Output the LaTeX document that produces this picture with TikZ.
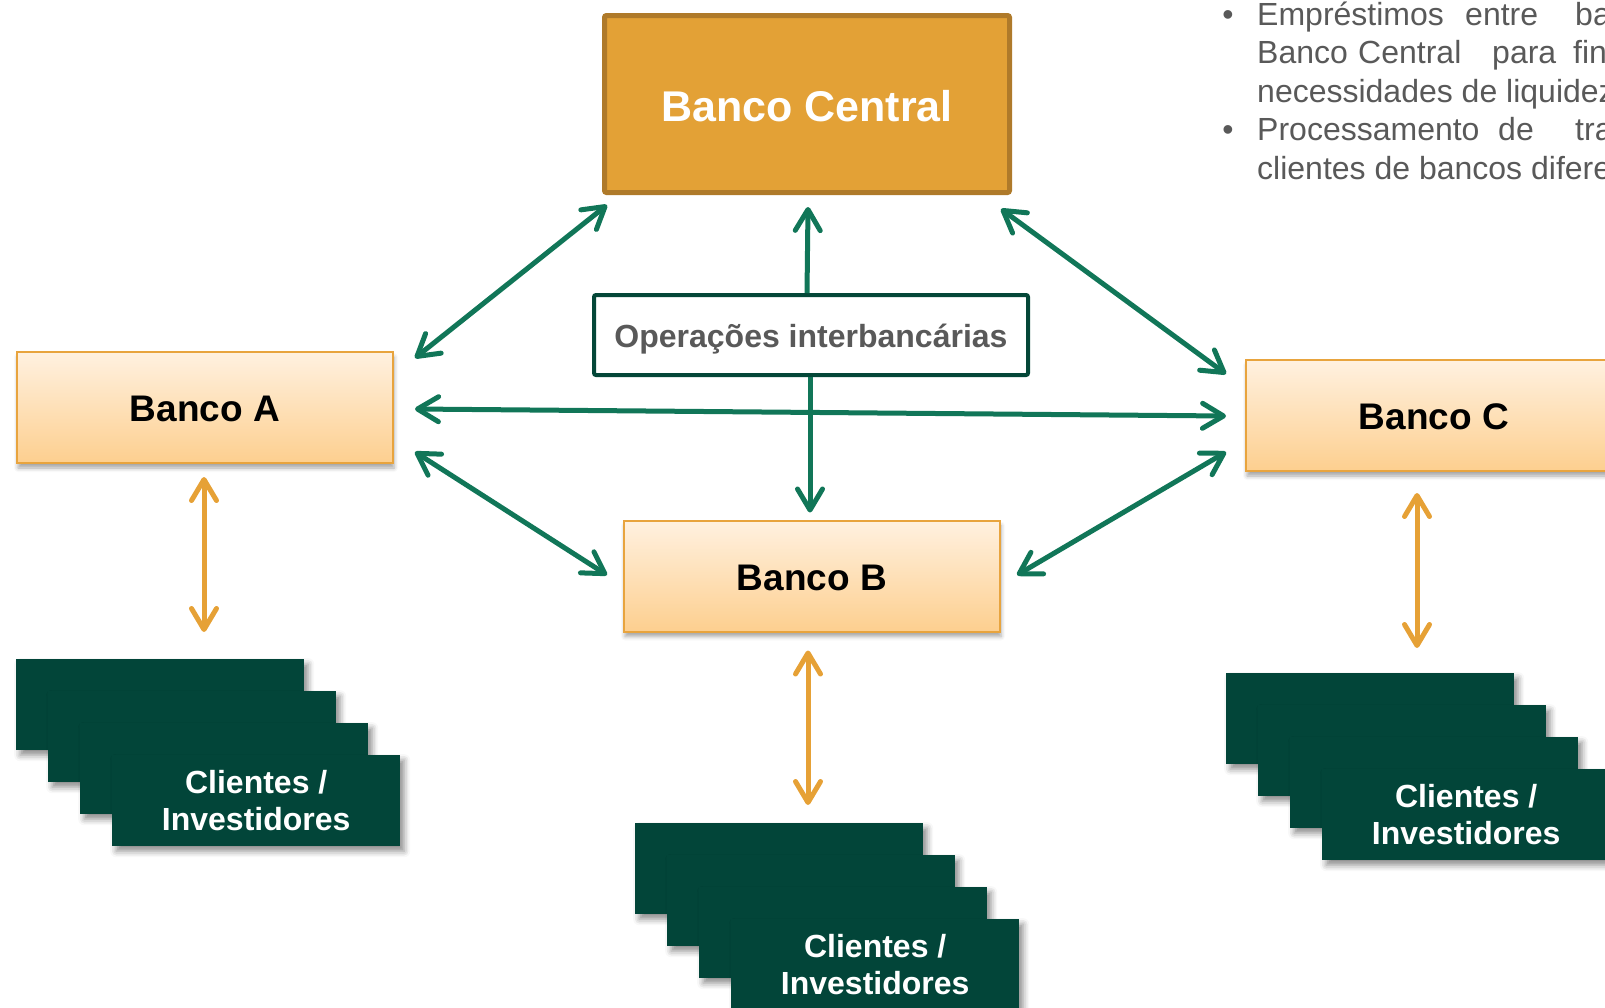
\documentclass[tikz,border=0pt]{standalone}
\usepackage{fontspec}
\setmainfont{Liberation Sans}
\usetikzlibrary{arrows.meta,shadows,shadows.blur,calc}
\definecolor{cgreen}{RGB}{17,118,88}
\definecolor{cdark}{RGB}{2,69,57}
\definecolor{corange}{RGB}{230,161,54}
\definecolor{ccentral}{RGB}{227,161,54}
\definecolor{ccentraledge}{RGB}{175,122,42}
\definecolor{cbankedge}{RGB}{232,164,62}
\definecolor{cbanktop}{RGB}{255,241,224}
\definecolor{cbankbot}{RGB}{253,207,143}
\definecolor{cgray}{RGB}{89,89,89}
\definecolor{copsedge}{RGB}{4,71,56}
\newcommand{\lowertext}[2]{\raisebox{-#1}[\height][\depth]{#2}}
\begin{document}
\begin{tikzpicture}[x=1pt,y=-1pt,
  bank/.style={draw=cbankedge,line width=2pt,top color=cbanktop,bottom color=cbankbot,
    minimum width=376pt,minimum height=111pt,inner sep=0pt,
    font=\fontsize{37}{44}\selectfont\bfseries,
    blur shadow={shadow xshift=1pt,shadow yshift=-5pt,shadow blur radius=4pt,shadow opacity=35}},
  card/.style={fill=cdark,minimum width=288pt,minimum height=91pt,anchor=north west,
    inner sep=0pt,text=white,align=center,
    font=\fontsize{32}{37}\selectfont\bfseries,
    blur shadow={shadow xshift=4pt,shadow yshift=-5pt,shadow blur radius=6pt,shadow opacity=45}},
  garrow/.style={draw=cgreen,line width=5pt,
    {Straight Barb[length=21pt,width=25pt,round]}-{Straight Barb[length=21pt,width=25pt,round]}},
  garrowone/.style={draw=cgreen,line width=5pt,
    -{Straight Barb[length=21pt,width=25pt,round]}},
  oarrow/.style={draw=corange,line width=5pt,
    {Straight Barb[length=21pt,width=25pt,round]}-{Straight Barb[length=21pt,width=25pt,round]}},
  bullettext/.style={anchor=base west,inner sep=0pt,text=cgray,font=\fontsize{32}{38}\selectfont},
  bulletdot/.style={anchor=base,inner sep=0pt,text=cgray,font=\fontsize{32}{38}\selectfont}
]
\useasboundingbox (0,0) rectangle (1605,1007);

% Banco Central
\node[draw=ccentraledge,fill=ccentral,line width=5pt,rounded corners=2pt,
  minimum width=405pt,minimum height=177pt,inner sep=0pt,text=white,
  font=\fontsize{43}{50}\selectfont\bfseries] (Central) at (807,104) {\lowertext{2pt}{Banco Central}};

% Operations box
\node[draw=copsedge,fill=white,line width=4pt,rounded corners=2pt,
  minimum width=434pt,minimum height=80pt,inner sep=0pt,text=cgray,
  font=\fontsize{32}{38}\selectfont\bfseries] (Ops) at (811,335) {\lowertext{4pt}{Operações interbancárias}};

% Banks
\node[bank] (A) at (205,407.5) {\lowertext{1pt}{Banco A}};
\node[bank] (B) at (812,576) {\lowertext{2pt}{Banco B}};
\node[bank] (C) at (1434,415.5) {\lowertext{1pt}{Banco C}};

% Client stacks
\node[card] (SA1) at (16,659) {};
\node[card] (SA2) at (48,691) {};
\node[card] (SA3) at (80,723) {};
\node[card] (SA4) at (112,755) {Clientes /\\Investidores};

\node[card] (SB1) at (635,823) {};
\node[card] (SB2) at (667,855) {};
\node[card] (SB3) at (699,887) {};
\node[card] (SB4) at (731,919) {Clientes /\\Investidores};

\node[card] (SC1) at (1226,673) {};
\node[card] (SC2) at (1258,705) {};
\node[card] (SC3) at (1290,737) {};
\node[card] (SC4) at (1322,769) {Clientes /\\Investidores};

% Green connectors
\draw[garrow] ([shift={(21,7)}]A.north east) -- ([shift={(5,10)}]Central.south west);
\draw[garrow] ([shift={(21,1.5)}]A.east) -- ([shift={(-19,0.5)}]C.west);
\draw[garrow] ([shift={(21,-12)}]A.south east) -- ([shift={(-16,-1)}]B.west);
\draw[garrow] ([shift={(-11,14)}]Central.south east) -- ([shift={(-19,15)}]C.north west);
\draw[garrow] ([shift={(16,-1)}]B.east) -- ([shift={(-19,-20)}]C.south west);
\draw[garrowone] (Central.south |- Ops.north) -- ([shift={(1,12)}]Central.south);
\draw[garrowone] ([shift={(-1,0)}]Ops.south) -- ([shift={(-2,-7)}]B.north);

% Orange connectors
\draw[oarrow] ($(A.south)+(-1,13)$) -- ($(A.south |- SA1.north)+(-1,-27)$);
\draw[oarrow] ($(B.south)+(-4,18)$) -- ($(B.south |- SB1.north)+(-4,-18)$);
\draw[oarrow] ($(C.south)+(-17,21)$) -- ($(C.south |- SC1.north)+(-17,-25)$);

% Bullet text (cut at the right edge)
\node[bulletdot] (d1) at (1228,25) {\textbullet};
\node[bullettext] (w1) at (1257,25) {Empréstimos};
\node[bullettext] (w2) at (1465,25) {entre};
\node[bullettext] (w3) at (1575,25) {ba};
\node[bullettext] (w4) at (1257,63.5) {Banco};
\node[bullettext] (w5) at (1358,63.5) {Central};
\node[bullettext] (w6) at (1492,63.5) {para};
\node[bullettext] (w7) at (1573,63.5) {fin};
\node[bullettext] (w8) at (1257,102) {necessidades de liquidez};
\node[bulletdot] (d2) at (1228,140.5) {\textbullet};
\node[bullettext] (w9) at (1257,140.5) {Processamento};
\node[bullettext] (w10) at (1498,140.5) {de};
\node[bullettext] (w11) at (1575,140.5) {tra};
\node[bullettext] (w12) at (1257,179) {clientes de bancos difere};
\end{tikzpicture}
\end{document}
